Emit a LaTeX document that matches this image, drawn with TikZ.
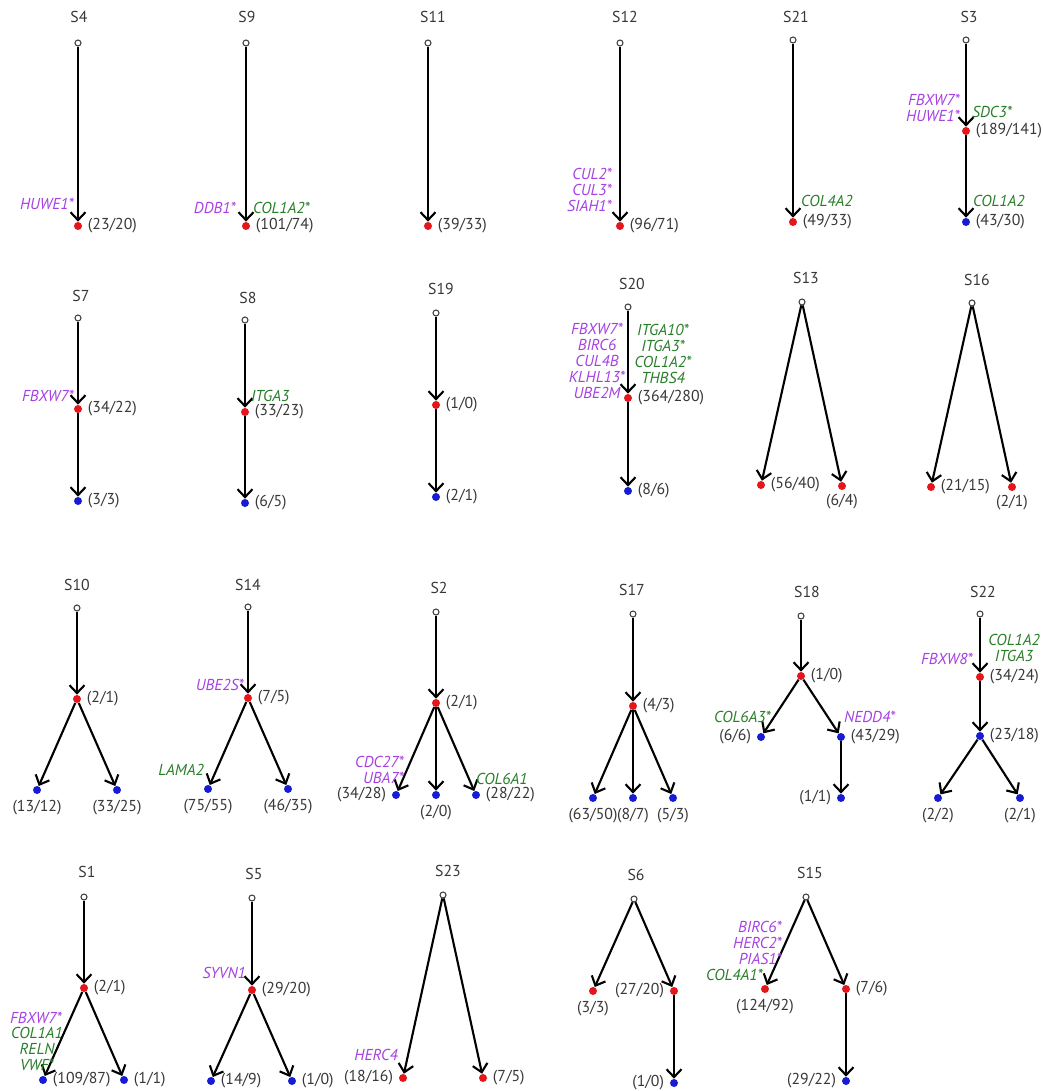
\documentclass[tikz,border=0pt]{standalone}
\usepackage{fontspec}
\setmainfont{PT Sans}
\usepackage{xcolor}
\usepackage{tikz}
\usetikzlibrary{arrows.meta, positioning}
\definecolor{dotred}{RGB}{228,22,28}
\definecolor{dotblue}{RGB}{22,28,212}
\definecolor{genepurple}{RGB}{166,64,226}
\definecolor{genegreen}{RGB}{40,126,40}
\definecolor{numgray}{RGB}{55,55,55}
\tikzset{
  rootpt/.style={circle, draw=black!75, fill=white, line width=0.6pt, inner sep=0pt, minimum size=0.12cm},
  redpt/.style={circle, fill=dotred, inner sep=0pt, minimum size=0.16cm},
  bluept/.style={circle, fill=dotblue, inner sep=0pt, minimum size=0.16cm},
  tlabel/.style={text=numgray, inner sep=1pt, font=\fontsize{9}{9}\selectfont},
  cnt/.style={text=numgray, inner sep=1pt, font=\fontsize{9}{9}\selectfont},
  ubq/.style={text=genepurple, inner sep=1pt, font=\fontsize{9}{9}\selectfont\itshape},
  ecm/.style={text=genegreen, inner sep=1pt, font=\fontsize{9}{9}\selectfont\itshape},
  link/.style={line width=1.2pt, -{Straight Barb[length=4.5pt,width=8.5pt]}}
}

\begin{document}
\begin{tikzpicture}[x=0.02cm, y=-0.02cm]
\useasboundingbox (0,0) rectangle (1043,1091);

% ---- row 1
\node[tlabel] (s4t) at (79,17) {S4};
\node[rootpt] (s4r) at (78,43) {};
\node[redpt] (s4a) at (78,226) {};
\draw[link] (s4r) -- (s4a);
\node[cnt, right=2pt of s4a] (s4n) {(23/20)};
\node[ubq, anchor=east] (s4g) at (76,204) {HUWE1*};

\node[tlabel] (s9t) at (247,17) {S9};
\node[rootpt] (s9r) at (246,43) {};
\node[redpt] (s9a) at (246,226) {};
\draw[link] (s9r) -- (s9a);
\node[cnt, right=2pt of s9a] (s9n) {(101/74)};
\node[ubq, anchor=east] (s9g) at (238,208) {DDB1*};
\node[ecm, anchor=west] (s9e) at (251,208) {COL1A2*};

\node[tlabel] (s11t) at (433,17) {S11};
\node[rootpt] (s11r) at (428,43) {};
\node[redpt] (s11a) at (428,226) {};
\draw[link] (s11r) -- (s11a);
\node[cnt, right=2pt of s11a] (s11n) {(39/33)};

\node[tlabel] (s12t) at (625,17) {S12};
\node[rootpt] (s12r) at (620,43) {};
\node[redpt] (s12a) at (620,226) {};
\draw[link] (s12r) -- (s12a);
\node[cnt, right=2pt of s12a] (s12n) {(96/71)};
\node[ubq, anchor=east, align=right] (s12g) at (614,190) {CUL2*\\CUL3*\\SIAH1*};

\node[tlabel] (s21t) at (796,17) {S21};
\node[rootpt] (s21r) at (793,40) {};
\node[redpt] (s21a) at (793,222) {};
\draw[link] (s21r) -- (s21a);
\node[cnt, right=2pt of s21a] (s21n) {(49/33)};
\node[ecm, anchor=west] (s21e) at (799,201) {COL4A2};

\node[tlabel] (s3t) at (969,17) {S3};
\node[rootpt] (s3r) at (966,40) {};
\node[redpt] (s3a) at (966,131) {};
\node[bluept] (s3b) at (966,222) {};
\draw[link] (s3r) -- (s3a);
\draw[link] (s3a) -- (s3b);
\node[cnt, right=2pt of s3a] (s3an) {(189/141)};
\node[cnt, right=2pt of s3b] (s3bn) {(43/30)};
\node[ubq, anchor=east, align=right] (s3g) at (962,108) {FBXW7*\\HUWE1*};
\node[ecm, anchor=west] (s3e) at (970,112) {SDC3*};
\node[ecm, anchor=west] (s3f) at (971,201) {COL1A2};

% ---- row 2
\node[tlabel] (s7t) at (81,296) {S7};
\node[rootpt] (s7r) at (78,318) {};
\node[redpt] (s7a) at (78,409) {};
\node[bluept] (s7b) at (78,501) {};
\draw[link] (s7r) -- (s7a);
\draw[link] (s7a) -- (s7b);
\node[cnt, right=2pt of s7a] (s7an) {(34/22)};
\node[cnt, right=2pt of s7b] (s7bn) {(3/3)};
\node[ubq, anchor=east] (s7g) at (76,396) {FBXW7*};

\node[tlabel] (s8t) at (248,298) {S8};
\node[rootpt] (s8r) at (245,320) {};
\node[redpt] (s8a) at (245,412) {};
\node[bluept] (s8b) at (245,503) {};
\draw[link] (s8r) -- (s8a);
\draw[link] (s8a) -- (s8b);
\node[cnt, right=2pt of s8a] (s8an) {(33/23)};
\node[cnt, right=2pt of s8b] (s8bn) {(6/5)};
\node[ecm, anchor=west] (s8e) at (249,396) {ITGA3};

\node[tlabel] (s19t) at (441,289) {S19};
\node[rootpt] (s19r) at (436,313) {};
\node[redpt] (s19a) at (436,405) {};
\node[bluept] (s19b) at (436,497) {};
\draw[link] (s19r) -- (s19a);
\draw[link] (s19a) -- (s19b);
\node[cnt, right=2pt of s19a] (s19an) {(1/0)};
\node[cnt, right=2pt of s19b] (s19bn) {(2/1)};

\node[tlabel] (s20t) at (632,284) {S20};
\node[rootpt] (s20r) at (628,307) {};
\node[redpt] (s20a) at (628,398) {};
\node[bluept] (s20b) at (628,491) {};
\draw[link] (s20r) -- (s20a);
\draw[link] (s20a) -- (s20b);
\node[cnt, right=2pt of s20a] (s20an) {(364/280)};
\node[cnt, right=2pt of s20b] (s20bn) {(8/6)};
\node[ubq, align=center] (s20g) at (597,361) {FBXW7*\\BIRC6\\CUL4B\\KLHL13*\\UBE2M};
\node[ecm, align=center] (s20e) at (663,354) {ITGA10*\\ITGA3*\\COL1A2*\\THBS4};

\node[tlabel] (s13t) at (806,278) {S13};
\node[rootpt] (s13r) at (802,302) {};
\node[redpt] (s13a) at (761,485) {};
\node[redpt] (s13b) at (842,486) {};
\draw[link] (s13r) -- (s13a);
\draw[link] (s13r) -- (s13b);
\node[cnt, right=2pt of s13a] (s13an) {(56/40)};
\node[cnt, below=1pt of s13b] (s13bn) {(6/4)};

\node[tlabel] (s16t) at (977,280) {S16};
\node[rootpt] (s16r) at (972,303) {};
\node[redpt] (s16a) at (931,487) {};
\node[redpt] (s16b) at (1012,487) {};
\draw[link] (s16r) -- (s16a);
\draw[link] (s16r) -- (s16b);
\node[cnt, right=2pt of s16a] (s16an) {(21/15)};
\node[cnt, below=1pt of s16b] (s16bn) {(2/1)};

% ---- row 3
\node[tlabel] (s10t) at (77,585) {S10};
\node[rootpt] (s10r) at (77,608) {};
\node[redpt] (s10a) at (77,699) {};
\node[bluept] (s10b) at (37,790) {};
\node[bluept] (s10c) at (117,790) {};
\draw[link] (s10r) -- (s10a);
\draw[link] (s10a) -- (s10b);
\draw[link] (s10a) -- (s10c);
\node[cnt, right=2pt of s10a] (s10an) {(2/1)};
\node[cnt, below=2pt of s10b] (s10bn) {(13/12)};
\node[cnt, below=2pt of s10c] (s10cn) {(33/25)};

\node[tlabel] (s14t) at (248,585) {S14};
\node[rootpt] (s14r) at (248,607) {};
\node[redpt] (s14a) at (248,698) {};
\node[bluept] (s14b) at (208,789) {};
\node[bluept] (s14c) at (288,789) {};
\draw[link] (s14r) -- (s14a);
\draw[link] (s14a) -- (s14b);
\draw[link] (s14a) -- (s14c);
\node[cnt, right=2pt of s14a] (s14an) {(7/5)};
\node[cnt, below=2pt of s14b] (s14bn) {(75/55)};
\node[cnt, below=2pt of s14c] (s14cn) {(46/35)};
\node[ubq, anchor=east] (s14g) at (246,685) {UBE2S*};
\node[ecm, anchor=east] (s14e) at (206,770) {LAMA2};

\node[tlabel] (s2t) at (439,588) {S2};
\node[rootpt] (s2r) at (436,612) {};
\node[redpt] (s2a) at (436,703) {};
\node[bluept] (s2b) at (396,795) {};
\node[bluept] (s2c) at (436,795) {};
\node[bluept] (s2d) at (476,795) {};
\draw[link] (s2r) -- (s2a);
\draw[link] (s2a) -- (s2b);
\draw[link] (s2a) -- (s2c);
\draw[link] (s2a) -- (s2d);
\node[cnt, right=2pt of s2a] (s2an) {(2/1)};
\node[cnt, left=2pt of s2b] (s2bn) {(34/28)};
\node[cnt, below=2pt of s2c] (s2cn) {(2/0)};
\node[cnt, right=2pt of s2d] (s2dn) {(28/22)};
\node[ubq, anchor=east, align=right] (s2g) at (406,770) {CDC27*\\UBA7*};
\node[ecm, anchor=west] (s2e) at (474,779) {COL6A1};

\node[tlabel] (s17t) at (632,590) {S17};
\node[rootpt] (s17r) at (633,614) {};
\node[redpt] (s17a) at (633,706) {};
\node[bluept] (s17b) at (593,798) {};
\node[bluept] (s17c) at (633,798) {};
\node[bluept] (s17d) at (673,798) {};
\draw[link] (s17r) -- (s17a);
\draw[link] (s17a) -- (s17b);
\draw[link] (s17a) -- (s17c);
\draw[link] (s17a) -- (s17d);
\node[cnt, right=2pt of s17a] (s17an) {(4/3)};
\node[cnt, below=2pt of s17b] (s17bn) {(63/50)};
\node[cnt, below=2pt of s17c] (s17cn) {(8/7)};
\node[cnt, below=2pt of s17d] (s17dn) {(5/3)};

\node[tlabel] (s18t) at (807,592) {S18};
\node[rootpt] (s18r) at (801,616) {};
\node[redpt] (s18a) at (801,676) {};
\node[bluept] (s18b) at (761,737) {};
\node[bluept] (s18c) at (841,737) {};
\node[bluept] (s18d) at (841,798) {};
\draw[link] (s18r) -- (s18a);
\draw[link] (s18a) -- (s18b);
\draw[link] (s18a) -- (s18c);
\draw[link] (s18c) -- (s18d);
\node[cnt, right=2pt of s18a] (s18an) {(1/0)};
\node[cnt, left=2pt of s18b] (s18bn) {(6/6)};
\node[cnt, right=2pt of s18c] (s18cn) {(43/29)};
\node[cnt, left=2pt of s18d] (s18dn) {(1/1)};
\node[ecm, anchor=east] (s18e) at (773,717) {COL6A3*};
\node[ubq, anchor=west] (s18g) at (842,717) {NEDD4*};

\node[tlabel] (s22t) at (983,592) {S22};
\node[rootpt] (s22r) at (980,614) {};
\node[redpt] (s22a) at (980,677) {};
\node[bluept] (s22b) at (980,736) {};
\node[bluept] (s22c) at (938,798) {};
\node[bluept] (s22d) at (1020,798) {};
\draw[link] (s22r) -- (s22a);
\draw[link] (s22a) -- (s22b);
\draw[link] (s22b) -- (s22c);
\draw[link] (s22b) -- (s22d);
\node[cnt, right=2pt of s22a] (s22an) {(34/24)};
\node[cnt, right=2pt of s22b] (s22bn) {(23/18)};
\node[cnt, below=2pt of s22c] (s22cn) {(2/2)};
\node[cnt, below=2pt of s22d] (s22dn) {(2/1)};
\node[ubq, anchor=east] (s22g) at (975,659) {FBXW8*};
\node[ecm, align=center] (s22e) at (1014,648) {COL1A2\\ITGA3};

% ---- row 4
\node[tlabel] (s1t) at (87,872) {S1};
\node[rootpt] (s1r) at (84,897) {};
\node[redpt] (s1a) at (84,988) {};
\node[bluept] (s1b) at (43,1080) {};
\node[bluept] (s1c) at (124,1080) {};
\draw[link] (s1r) -- (s1a);
\draw[link] (s1a) -- (s1b);
\draw[link] (s1a) -- (s1c);
\node[cnt, right=2pt of s1a] (s1an) {(2/1)};
\node[cnt, right=2pt of s1b] (s1bn) {(109/87)};
\node[cnt, right=2pt of s1c] (s1cn) {(1/1)};
\node[ubq] (s1g) at (36,1018) {FBXW7*};
\node[ecm, align=center] (s1e) at (37,1049) {COL1A1\\RELN\\VWF*};

\node[tlabel] (s5t) at (254,874) {S5};
\node[rootpt] (s5r) at (252,898) {};
\node[redpt] (s5a) at (252,990) {};
\node[bluept] (s5b) at (211,1081) {};
\node[bluept] (s5c) at (292,1081) {};
\draw[link] (s5r) -- (s5a);
\draw[link] (s5a) -- (s5b);
\draw[link] (s5a) -- (s5c);
\node[cnt, right=2pt of s5a] (s5an) {(29/20)};
\node[cnt, right=2pt of s5b] (s5bn) {(14/9)};
\node[cnt, right=2pt of s5c] (s5cn) {(1/0)};
\node[ubq, anchor=east] (s5g) at (248,973) {SYVN1};

\node[tlabel] (s23t) at (448,871) {S23};
\node[rootpt] (s23r) at (443,895) {};
\node[redpt] (s23a) at (403,1078) {};
\node[redpt] (s23b) at (483,1078) {};
\draw[link] (s23r) -- (s23a);
\draw[link] (s23r) -- (s23b);
\node[cnt, left=2pt of s23a] (s23an) {(18/16)};
\node[cnt, right=2pt of s23b] (s23bn) {(7/5)};
\node[ubq, anchor=east] (s23g) at (400,1055) {HERC4};

\node[tlabel] (s6t) at (636,875) {S6};
\node[rootpt] (s6r) at (634,899) {};
\node[redpt] (s6a) at (593,991) {};
\node[redpt] (s6b) at (674,991) {};
\node[bluept] (s6c) at (674,1083) {};
\draw[link] (s6r) -- (s6a);
\draw[link] (s6r) -- (s6b);
\draw[link] (s6b) -- (s6c);
\node[cnt, below=2pt of s6a] (s6an) {(3/3)};
\node[cnt, left=2pt of s6b] (s6bn) {(27/20)};
\node[cnt, left=2pt of s6c] (s6cn) {(1/0)};

\node[tlabel] (s15t) at (810,873) {S15};
\node[rootpt] (s15r) at (806,897) {};
\node[redpt] (s15a) at (765,989) {};
\node[redpt] (s15b) at (846,989) {};
\node[bluept] (s15c) at (846,1081) {};
\draw[link] (s15r) -- (s15a);
\draw[link] (s15r) -- (s15b);
\draw[link] (s15b) -- (s15c);
\node[cnt, below=2pt of s15a] (s15an) {(124/92)};
\node[cnt, right=2pt of s15b] (s15bn) {(7/6)};
\node[cnt, left=2pt of s15c] (s15cn) {(29/22)};
\node[ubq, anchor=east, align=right] (s15g) at (784,943) {BIRC6*\\HERC2*\\PIAS1*};
\node[ecm, anchor=east] (s15e) at (765,975) {COL4A1*};
\end{tikzpicture}
\end{document}
